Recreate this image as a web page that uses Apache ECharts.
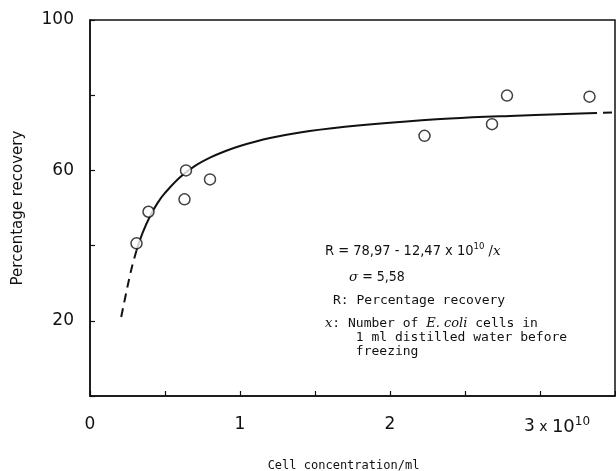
<!DOCTYPE html>
<html>
<head>
<meta charset="utf-8">
<script src="https://cdn.jsdelivr.net/npm/echarts@6/dist/echarts.min.js"></script>
<style>
html,body{margin:0;padding:0;background:#fff;}
#chart{width:616px;height:471px;}
</style>
</head>
<body>
<div id="chart"></div>
<script>
// Observed points (x in units of 10^10 cells/ml, y = percentage recovery)
const pointX = [0.31, 0.39, 0.63, 0.64, 0.80, 2.23, 2.68, 2.78, 3.33];
const pointY = [40.6, 49.0, 52.3, 60.0, 57.6, 69.2, 72.3, 79.9, 79.6];

// Fitted curve (solid part)
const curveX = [0.31, 0.35, 0.40, 0.45, 0.50, 0.60, 0.70, 0.80, 0.90, 1.00, 1.20, 1.40, 1.70, 2.00, 2.40, 2.80, 3.32];
const curveY = [38.7, 43.3, 47.8, 51.3, 54.0, 58.2, 61.2, 63.4, 65.1, 66.5, 68.6, 70.1, 71.6, 72.7, 73.8, 74.5, 75.2];

// Dashed extrapolations
const dashLeftX = [0.208, 0.25, 0.28, 0.31];
const dashLeftY = [21.0, 29.1, 34.4, 38.7];
const dashRightX = [3.32, 3.50];
const dashRightY = [75.2, 75.4];

// Tick labels
const xLabelValues = [0, 1, 2, 3];
const yLabelValues = [20, 60, 100];

const yName = 'Percentage recovery';
const xName = 'Cell concentration/ml';

const pairs = (xs, ys) => xs.map((x, i) => [x, ys[i]]);

const chart = echarts.init(document.getElementById('chart'));
const ink = '#111';
const mono = '"DejaVu Sans Mono", "Liberation Mono", monospace';
const sans = '"DejaVu Sans", "Liberation Sans", sans-serif';
const narrow = '"DejaVu Sans Condensed", "Liberation Sans Narrow", "Liberation Sans", sans-serif';
const serifIt = '"DejaVu Serif", "Liberation Serif", serif';

chart.setOption({
  animation: false,
  backgroundColor: '#fff',
  grid: {
    left: 90, right: 1, top: 20, bottom: 75,
    outerBoundsMode: 'none', containLabel: false,
    show: true, borderColor: ink, borderWidth: 1.5, backgroundColor: 'transparent'
  },
  xAxis: {
    type: 'value', min: 0, max: 3.5, interval: 0.5,
    splitLine: { show: false },
    axisLine: { lineStyle: { color: ink, width: 1.5 } },
    axisTick: { inside: true, length: 5, lineStyle: { color: ink, width: 1.2 } },
    axisLabel: {
      margin: 20, color: ink, fontFamily: sans, fontSize: 17,
      formatter: v => {
        if (!xLabelValues.includes(v)) return '';
        if (v === 3) return '{pad|}3{x| x }{n|10}{sup|10}';
        return String(v);
      },
      rich: {
        pad: { width: 34 },
        x: { fontFamily: sans, fontSize: 14, color: ink },
        n: { fontFamily: sans, fontSize: 18, color: ink },
        sup: { fontFamily: sans, fontSize: 12, color: ink, verticalAlign: 'top', padding: [0, 0, 10, 0] }
      }
    },
    name: xName, nameLocation: 'middle', nameGap: 64,
    nameTextStyle: { fontFamily: mono, fontSize: 12, color: ink, padding: [0, 18, 0, 0] }
  },
  yAxis: {
    type: 'value', min: 0, max: 100, interval: 20,
    splitLine: { show: false },
    axisLine: { lineStyle: { color: ink, width: 1.5 } },
    axisTick: { inside: true, length: 5, lineStyle: { color: ink, width: 1.2 } },
    axisLabel: {
      margin: 16, color: ink, fontFamily: sans, fontSize: 17,
      formatter: v => yLabelValues.includes(v) ? String(v) : ''
    },
    name: yName, nameLocation: 'middle', nameGap: 64, nameRotate: 90,
    nameTextStyle: { fontFamily: sans, fontSize: 15, color: ink }
  },
  series: [
    {
      type: 'line', data: pairs(curveX, curveY), smooth: 0.4, symbol: 'none',
      lineStyle: { color: ink, width: 2 }, z: 2
    },
    {
      type: 'line', data: pairs(dashLeftX, dashLeftY), smooth: 0.3, symbol: 'none',
      lineStyle: { color: ink, width: 2, type: [9, 6] }, z: 2
    },
    {
      type: 'line', data: pairs(dashRightX, dashRightY), symbol: 'none',
      lineStyle: { color: ink, width: 2, type: [9, 6] }, z: 2
    },
    {
      type: 'scatter', data: pairs(pointX, pointY), symbol: 'circle', symbolSize: 11,
      itemStyle: { color: '#fff', borderColor: ink, borderWidth: 1.5 }, z: 3
    }
  ],
  graphic: [
    {
      type: 'text', left: 325, top: 242,
      style: {
        text: 'R = 78,97 - 12,47 x 10{sup|10} /{it|x}',
        font: '14.5px ' + narrow, fill: ink,
        rich: {
          sup: { fontFamily: narrow, fontSize: 9.5, fill: ink, verticalAlign: 'top', padding: [0, 0, 8, 0] },
          it: { fontFamily: serifIt, fontStyle: 'italic', fontSize: 13.5, fill: ink }
        }
      }
    },
    {
      type: 'text', left: 349, top: 270,
      style: {
        text: '{it|σ} = 5,58', font: '14px ' + narrow, fill: ink,
        rich: { it: { fontFamily: serifIt, fontStyle: 'italic', fontSize: 13.5, fill: ink } }
      }
    },
    {
      type: 'text', left: 333, top: 294,
      style: { text: 'R: Percentage recovery', font: '13px ' + mono, fill: ink }
    },
    {
      type: 'text', left: 325, top: 317,
      style: {
        text: '{it|x}: Number of {it|E. coli} cells in', font: '13px ' + mono, fill: ink,
        rich: { it: { fontFamily: serifIt, fontStyle: 'italic', fontSize: 13, fill: ink } }
      }
    },
    {
      type: 'text', left: 348, top: 331,
      style: { text: ' 1 ml distilled water before\n freezing', font: '13px ' + mono, fill: ink, lineHeight: 13.5 }
    }
  ]
});
</script>
</body>
</html>
